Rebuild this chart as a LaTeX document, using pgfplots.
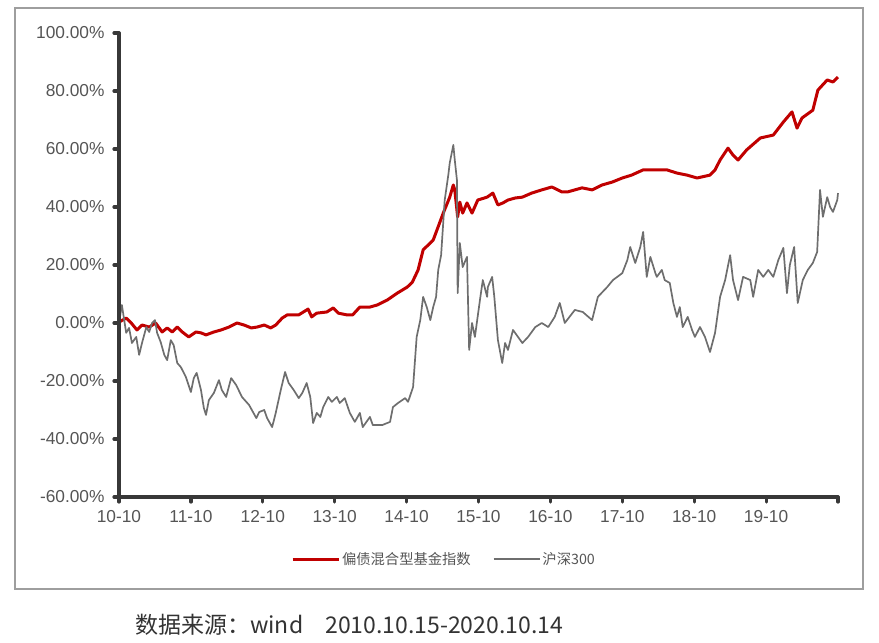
\documentclass[border=0pt]{standalone}
\usepackage{pgfplots}
\pgfplotsset{compat=1.18}
\usepackage{pgfplotstable}
\usepackage{fontspec}
\setmainfont{Liberation Sans}
\newfontfamily\cjk{Noto Sans CJK SC}
\definecolor{redline}{HTML}{C00000}
\definecolor{grayline}{HTML}{6E6E6E}
\definecolor{axcol}{HTML}{383838}
\definecolor{txt}{HTML}{555555}

\pgfplotstableread{
x y
0.00 0.3
0.10 1.7
0.17 0.0
0.25 -2.4
0.32 -0.7
0.42 -1.4
0.51 0.0
0.60 -3.1
0.67 -1.7
0.74 -3.1
0.81 -1.4
0.88 -3.1
0.97 -4.8
1.07 -3.1
1.14 -3.4
1.21 -4.1
1.32 -3.1
1.42 -2.4
1.53 -1.4
1.64 0.0
1.74 -0.7
1.84 -1.7
1.92 -1.4
2.02 -0.7
2.11 -1.7
2.18 -0.7
2.27 1.7
2.34 2.8
2.50 2.8
2.63 4.8
2.68 2.1
2.75 3.4
2.89 3.8
2.98 5.2
3.05 3.4
3.17 2.8
3.25 2.8
3.35 5.5
3.49 5.5
3.59 6.2
3.73 7.9
3.87 10.3
4.01 12.4
4.08 14.1
4.16 18.3
4.23 25.2
4.37 28.6
4.51 37.9
4.60 43.4
4.65 47.6
4.67 45.9
4.71 36.6
4.74 41.7
4.78 37.9
4.84 41.4
4.91 37.9
4.99 42.4
5.12 43.4
5.20 44.8
5.27 40.7
5.34 41.4
5.41 42.4
5.51 43.1
5.61 43.4
5.74 44.8
5.88 45.9
6.02 46.9
6.16 45.2
6.24 45.2
6.44 46.6
6.58 45.9
6.72 47.6
6.86 48.6
7.00 50.0
7.13 51.0
7.29 52.8
7.43 52.8
7.62 52.8
7.76 51.7
7.90 51.0
8.04 50.0
8.22 51.0
8.29 52.8
8.36 56.2
8.47 60.3
8.54 57.9
8.61 56.2
8.73 59.7
8.92 63.8
9.10 64.8
9.24 69.3
9.36 72.8
9.43 67.2
9.50 70.7
9.65 73.4
9.72 80.3
9.85 83.8
9.93 83.1
10.00 84.8
}\bondmix

\pgfplotstableread{
x y
0.00 0.0
0.04 6.2
0.10 -3.4
0.14 -1.7
0.18 -6.9
0.24 -4.8
0.28 -11.0
0.32 -6.9
0.38 -1.4
0.42 -3.1
0.46 0.0
0.50 1.0
0.53 -3.4
0.58 -6.6
0.63 -11.0
0.67 -12.8
0.72 -5.9
0.76 -7.6
0.81 -13.8
0.86 -15.2
0.93 -18.6
1.00 -23.8
1.04 -19.0
1.08 -17.2
1.14 -23.1
1.18 -29.3
1.21 -31.7
1.25 -26.6
1.32 -24.1
1.39 -19.7
1.43 -23.1
1.49 -25.5
1.56 -19.0
1.63 -21.4
1.71 -25.5
1.81 -28.3
1.91 -32.8
1.95 -30.7
2.02 -30.0
2.06 -32.8
2.13 -35.9
2.18 -31.0
2.25 -23.1
2.31 -16.9
2.36 -20.7
2.43 -23.1
2.50 -25.9
2.55 -24.1
2.61 -20.7
2.66 -25.5
2.70 -34.5
2.75 -31.0
2.80 -32.4
2.84 -29.0
2.91 -25.5
2.96 -27.2
3.03 -25.5
3.07 -27.6
3.14 -25.9
3.21 -31.0
3.28 -34.1
3.35 -31.0
3.39 -35.9
3.49 -32.4
3.53 -35.2
3.66 -35.2
3.77 -34.1
3.81 -29.0
3.88 -27.6
3.98 -25.9
4.02 -27.2
4.09 -22.1
4.14 -4.8
4.19 1.0
4.23 9.0
4.28 5.5
4.33 1.0
4.37 5.5
4.41 9.0
4.44 18.3
4.48 23.4
4.53 42.4
4.58 51.0
4.60 55.2
4.65 61.4
4.67 56.2
4.70 49.3
4.71 10.3
4.74 27.6
4.78 19.3
4.84 22.8
4.87 -9.3
4.91 0.0
4.95 -4.8
5.02 7.9
5.06 14.8
5.12 9.0
5.13 12.4
5.19 15.9
5.22 9.0
5.27 -5.9
5.33 -13.8
5.37 -6.9
5.41 -9.3
5.48 -2.4
5.61 -6.9
5.69 -4.8
5.79 -1.4
5.88 0.0
5.97 -1.4
6.06 2.1
6.13 6.9
6.20 0.0
6.34 4.5
6.45 3.8
6.58 1.0
6.66 9.0
6.79 12.4
6.87 14.8
7.00 17.2
7.07 21.7
7.11 26.2
7.18 20.7
7.25 26.2
7.29 31.4
7.34 15.9
7.39 22.8
7.46 17.2
7.48 15.9
7.55 18.3
7.59 14.8
7.66 13.8
7.71 6.9
7.76 2.1
7.80 5.5
7.84 -1.4
7.91 2.1
7.97 -2.4
8.01 -4.8
8.08 -1.4
8.15 -4.8
8.22 -10.0
8.29 -3.4
8.36 9.0
8.43 14.8
8.50 23.4
8.54 14.8
8.61 7.9
8.68 15.9
8.78 14.8
8.82 9.0
8.89 18.3
8.96 15.9
9.03 18.3
9.10 15.9
9.17 21.7
9.24 25.9
9.29 10.3
9.33 20.0
9.39 26.2
9.44 6.9
9.51 14.8
9.58 18.3
9.65 20.7
9.71 24.5
9.75 45.9
9.79 36.6
9.85 43.4
9.89 40.0
9.93 38.3
9.99 42.4
10.00 44.8
}\hsthree

\begin{document}
\begin{tikzpicture}[x=1pt,y=1pt]
\path[use as bounding box] (0,0) rectangle (879,643);
\draw[color=black!38, line width=1.5pt] (15,635) rectangle (863,54);
\begin{axis}[
  at={(119pt,146pt)}, anchor=south west,
  scale only axis, width=719pt, height=464pt,
  xmin=0, xmax=10, ymin=-60, ymax=100,
  axis x line*=bottom, axis y line*=left,
  axis line style={color=axcol},
  xtick={0,1,2,3,4,5,6,7,8,9,10},
  xticklabels={10-10,11-10,12-10,13-10,14-10,15-10,16-10,17-10,18-10,19-10,{}},
  ytick={-60,-40,-20,0,20,40,60,80,100},
  yticklabel={\pgfmathprintnumber[fixed,fixed zerofill,precision=2,assume math mode=true]{\tick}\%},
  tick align=outside, major tick length=4pt,
  tick style={color=axcol},
  tick label style={font=\fontsize{17.3}{20}\selectfont, color=txt},
  xticklabel style={yshift=-6pt},
  yticklabel style={xshift=-7pt},
  clip=false,
  legend style={at={(0.452,-0.134)}, anchor=center, draw=none, fill=none,
    font=\cjk\fontsize{14.3}{17}\selectfont, text=txt,
    legend columns=2, /tikz/every even column/.append style={column sep=20pt}},
  legend image code/.code={\draw[#1] (0pt,0pt) -- (46pt,0pt);},
]
\addplot[color=redline, line width=3pt, line join=round] table[x=x,y=y]{\bondmix};
\addlegendentry{偏债混合型基金指数}
\addplot[color=grayline, line width=1.7pt, line join=round] table[x=x,y=y]{\hsthree};
\addlegendentry{沪深300}
\end{axis}
% axis decoration: thick axis lines and tick stubs (pixel layout: 1pt = 1px)
\draw[color=axcol, line width=3.2pt, line cap=round, line join=miter] (119,610) -- (119,146) -- (838,146);
\foreach \yy in {146,204,262,320,378,436,494,552,610} {
  \draw[color=axcol, line width=3.2pt, line cap=round] (119,\yy) -- (114,\yy);
}
\foreach \xx in {119,190.9,262.8,334.7,406.6,478.5,550.4,622.3,694.2,766.1,838} {
  \draw[color=axcol, line width=3.2pt, line cap=round] (\xx,146) -- (\xx,141);
}
\node[anchor=west, inner sep=0pt, text=black!80] at (135,18) {\cjk\fontsize{23}{26}\selectfont 数据来源：wind\hspace{22pt}2010.10.15-2020.10.14};
\end{tikzpicture}
\end{document}
